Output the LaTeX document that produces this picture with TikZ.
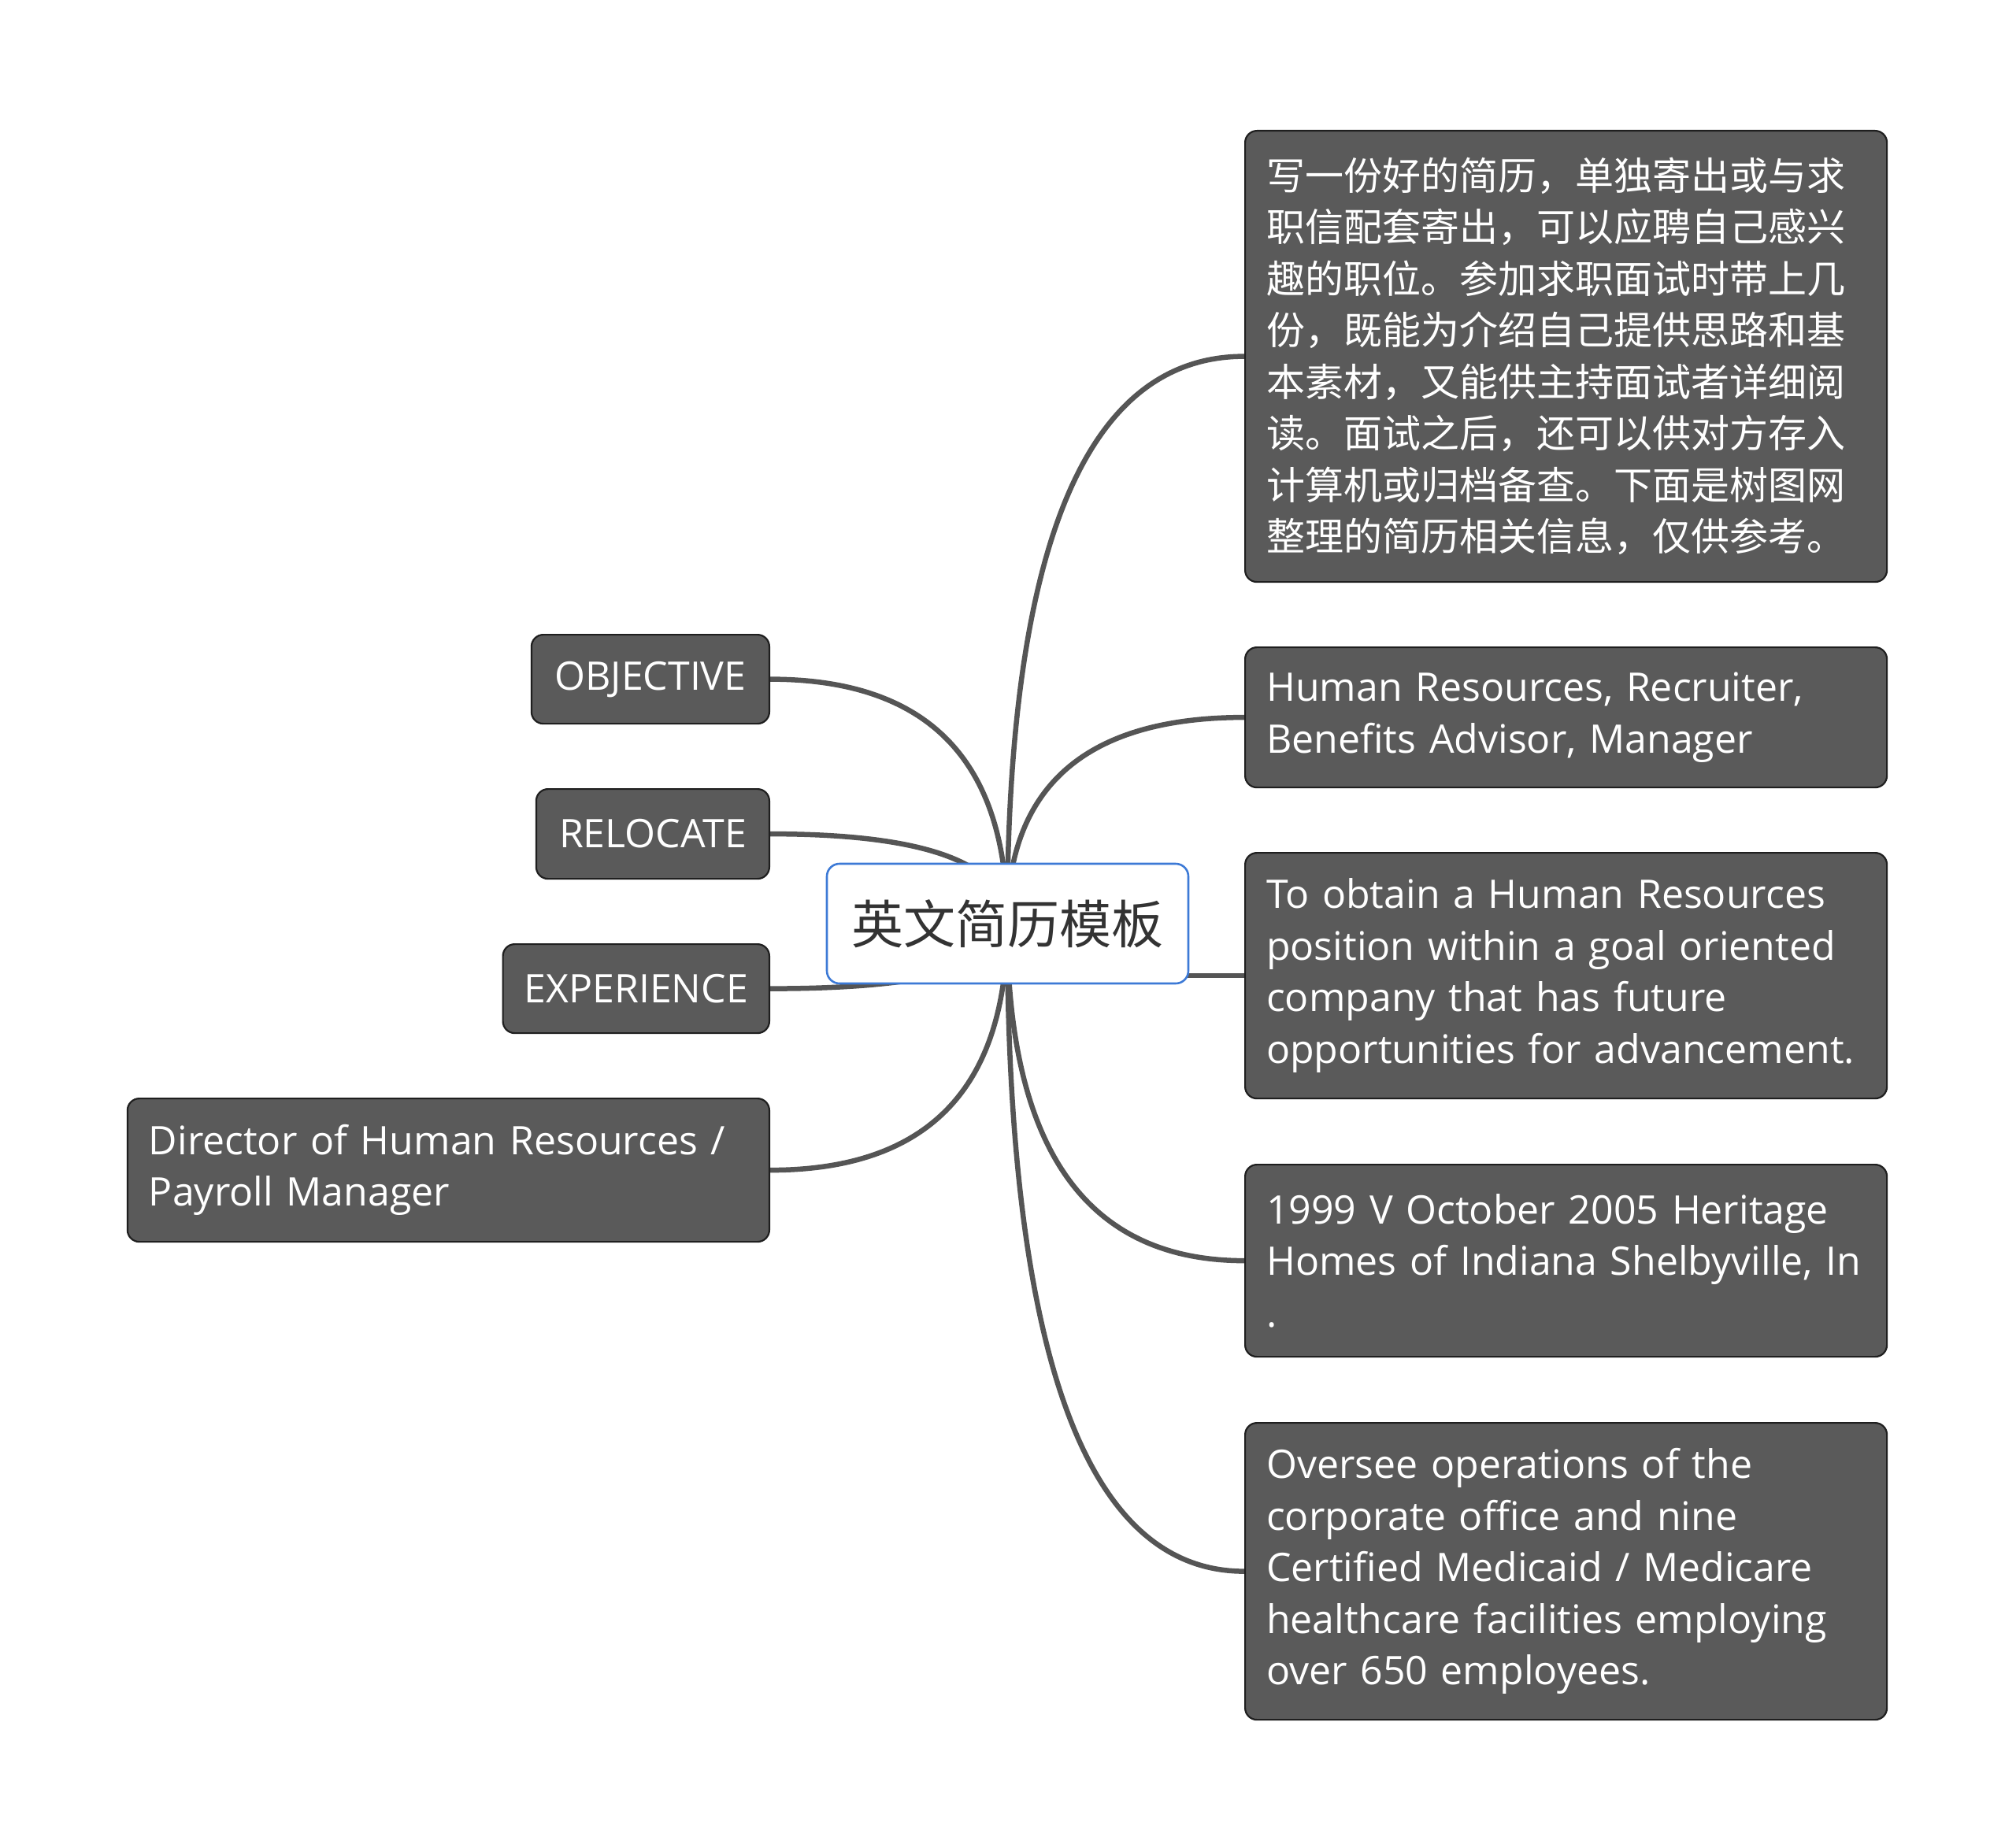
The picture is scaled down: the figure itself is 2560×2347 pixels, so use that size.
\documentclass[tikz,border=0pt]{standalone}
\usepackage{fontspec}
\setmainfont{Open Sans}
\newfontfamily\cjk{Noto Sans CJK SC}
\usetikzlibrary{backgrounds,calc}
\definecolor{nodegray}{HTML}{5A5A5A}
\definecolor{linkgray}{HTML}{555555}
\definecolor{rootblue}{HTML}{3D7AD6}
\definecolor{roottext}{HTML}{333333}
\begin{document}
\begin{tikzpicture}[x=1pt,y=-1pt,
  leaf/.style={draw=black!88, line width=2.2pt, fill=nodegray, rounded corners=15pt,
    text=white, font=\fontsize{50}{65.5}\selectfont, inner xsep=27pt, inner ysep=0pt, align=left},
  wide/.style={leaf, text width=761pt},
  link/.style={draw=linkgray, line width=6.5pt},
  rootbox/.style={draw=rootblue, line width=2.6pt, fill=white, rounded corners=16pt,
    text=roottext, font=\cjk\fontsize{66}{80}\selectfont, minimum width=459pt, minimum height=152pt, inner sep=0pt}]
\useasboundingbox (0,0) rectangle (2560,2347);

\node[rootbox] (root) at (1279.5,1173) {英文简历模板};
\coordinate (hub) at (1279,1173);

\node[wide, anchor=north west, minimum height=573pt, font=\cjk\fontsize{49}{65.5}\selectfont] (n1) at (1580,165) {写一份好的简历，单独寄出或与求\\职信配套寄出，可以应聘自己感兴\\趣的职位。参加求职面试时带上几\\份，既能为介绍自己提供思路和基\\本素材，又能供主持面试者详细阅\\读。面试之后，还可以供对方存入\\计算机或归档备查。下面是树图网\\整理的简历相关信息，仅供参考。};
\node[wide, anchor=north west, minimum height=178pt] (n2) at (1580,821) {Human Resources, Recruiter,\\Benefits Advisor, Manager};
\node[wide, anchor=north west, minimum height=312pt] (n3) at (1580,1082) {To obtain a Human Resources\\position within a goal oriented\\company that has future\\opportunities for advancement.};
\node[wide, anchor=north west, minimum height=244pt] (n4) at (1580,1478) {1999 V October 2005 Heritage\\Homes of Indiana Shelbyville, In\\.};
\node[wide, anchor=north west, minimum height=377pt] (n5) at (1580,1806) {Oversee operations of the\\corporate office and nine\\Certified Medicaid / Medicare\\healthcare facilities employing\\over 650 employees.};

\node[leaf, anchor=north east, minimum height=113pt, minimum width=302pt, align=center] (obj) at (978,805) {OBJECTIVE};
\node[leaf, anchor=north east, minimum height=114pt, minimum width=296pt, align=center] (rel) at (978,1001) {RELOCATE};
\node[leaf, anchor=north east, minimum height=113pt, minimum width=338pt, align=center] (exp) at (978,1198) {EXPERIENCE};
\node[wide, anchor=north east, minimum height=182pt] (dir) at (978,1394) {Director of Human Resources /\\Payroll Manager};

\begin{pgfonlayer}{background}
\foreach \n in {n1,n2,n4,n5}{
  \draw[link] (hub) .. controls ($(hub)!0.6667!(hub |- \n.west)$) and ($(\n.west)!0.6667!(hub |- \n.west)$) .. (\n.west);
}
\draw[link] (hub |- n3.west) -- (n3.west);
\foreach \n in {obj,rel,exp,dir}{
  \draw[link] (\n.east) .. controls ($(\n.east)!0.6667!(hub |- \n.east)$) and ($(hub)!0.6667!(hub |- \n.east)$) .. (hub);
}
\end{pgfonlayer}
\end{tikzpicture}
\end{document}
